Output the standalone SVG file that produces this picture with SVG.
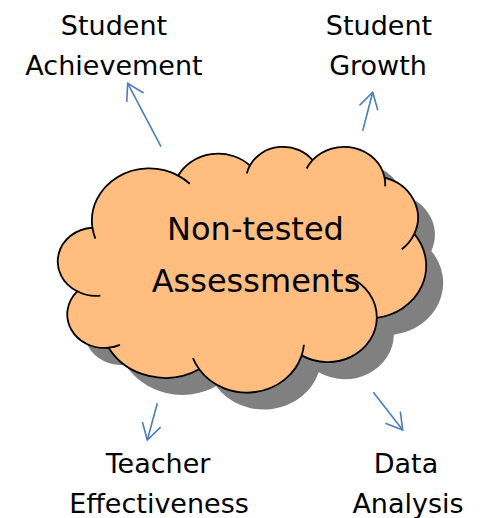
<svg xmlns="http://www.w3.org/2000/svg" width="485" height="518" viewBox="0 0 485 518">
<style>
.lbl{font-family:"DejaVu Sans","Liberation Sans",sans-serif;font-size:27px;fill:#000;text-anchor:middle}
.big{font-family:"DejaVu Sans","Liberation Sans",sans-serif;font-size:32px;fill:#000;text-anchor:middle}
.conn{stroke:#4A7EBB;stroke-width:1.6;fill:none;marker-end:url(#ah)}
.cl{vector-effect:non-scaling-stroke;stroke:#000;stroke-width:1.8;stroke-linejoin:round}
</style>
<defs>
<marker id="ah" viewBox="-20 -12 24 24" refX="0" refY="0" markerWidth="24" markerHeight="24" markerUnits="userSpaceOnUse" orient="auto">
<path d="M-16,-9.5 L0,0 L-16,9.5" fill="none" stroke="#4A7EBB" stroke-width="1.6"/>
</marker>
</defs>
<g id="cloud">
<g transform="translate(76.3,163) scale(0.0084884,0.0056875)">
<path fill="#808080" d="M3900,14370 A6753,9190 0 0 1 14005,5202 A5333,7267 0 0 1 22456,3432 A4365,5945 0 0 1 29834,2482 A4857,6595 0 0 1 38320,5576 A5333,7273 0 0 1 41820,15459 A6775,9220 0 0 1 37405,30201 A5785,7867 0 0 1 28556,36811 A6752,9215 0 0 1 16482,39265 A7720,10543 0 0 1 5805,35469 A4360,5918 0 0 1 2114,25547 A4345,5945 0 0 1 3900,14370 Z"/>
</g>
<g transform="translate(59.3,146) scale(0.0084884,0.0056875)">
<path class="cl" fill="#FFBE80" d="M3900,14370 A6753,9190 0 0 1 14005,5202 A5333,7267 0 0 1 22456,3432 A4365,5945 0 0 1 29834,2482 A4857,6595 0 0 1 38320,5576 A5333,7273 0 0 1 41820,15459 A6775,9220 0 0 1 37405,30201 A5785,7867 0 0 1 28556,36811 A6752,9215 0 0 1 16482,39265 A7720,10543 0 0 1 5805,35469 A4360,5918 0 0 1 2114,25547 A4345,5945 0 0 1 3900,14370 Z"/>
<path class="cl" fill="none" d="M4246,16275 A6753,9190 0 0 1 3900,14370 M4839,26318 A4345,5945 0 0 1 2114,25547 M7140,34955 A4360,5918 0 0 1 5805,35469 M16482,39265 A6752,9215 0 0 1 15749,37293 M28820,34944 A6752,9215 0 0 1 28556,36811 M34156,23067 A5785,7867 0 0 1 37405,30201 M41820,15459 A5333,7273 0 0 1 40347,18165 M38320,5576 A4857,6595 0 0 1 38390,7090 M29138,3958 A4857,6595 0 0 1 29834,2482 M22092,4849 A4365,5945 0 0 1 22456,3432 M14005,5202 A6753,9190 0 0 1 15367,6633"/>
</g>
<text class="big" x="255.5" y="240">Non-tested</text>
<text class="big" x="256" y="292">Assessments</text>
</g>
<g id="student-achievement">
<text class="lbl" x="114" y="35">Student</text>
<text class="lbl" x="114" y="75">Achievement</text>
</g>
<g id="student-growth">
<text class="lbl" x="379" y="35">Student</text>
<text class="lbl" x="378" y="75">Growth</text>
</g>
<g id="teacher-effectiveness">
<text class="lbl" x="158" y="473">Teacher</text>
<text class="lbl" x="159" y="513">Effectiveness</text>
</g>
<g id="data-analysis">
<text class="lbl" x="406" y="473">Data</text>
<text class="lbl" x="408" y="513">Analysis</text>
</g>
<g id="connectors">
<path class="conn" d="M161,146.7 L127.7,83.3"/>
<path class="conn" d="M362.7,130.7 L372.7,92.3"/>
<path class="conn" d="M157.3,403.3 L147.3,440"/>
<path class="conn" d="M373.3,392.3 L402.7,430"/>
</g>
</svg>
